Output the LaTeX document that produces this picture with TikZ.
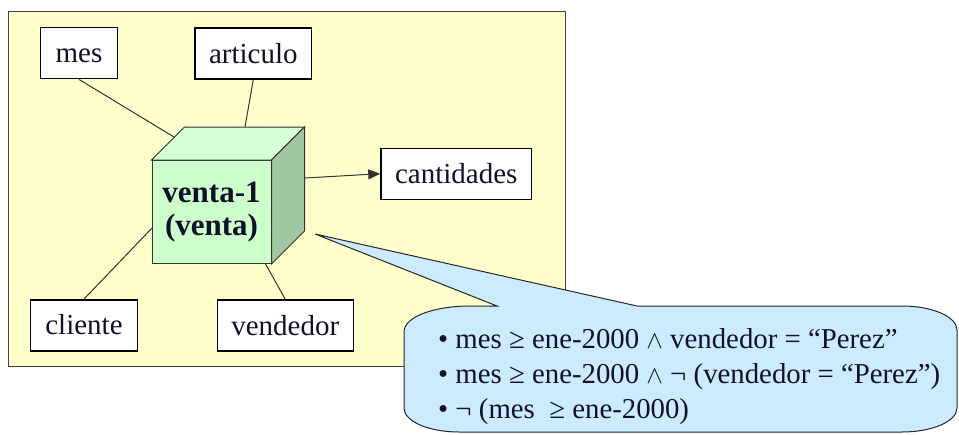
\documentclass[tikz,border=0pt]{standalone}
\usepackage{fontspec}
\setmainfont{Liberation Serif}
\usetikzlibrary{arrows.meta}
\definecolor{paper}{HTML}{FFFFCC}
\definecolor{cubefront}{HTML}{CCFFCC}
\definecolor{cubetop}{HTML}{D6FFD6}
\definecolor{cubeside}{HTML}{A0C8A0}
\definecolor{calloutfill}{HTML}{CCEBFF}
\definecolor{inkline}{HTML}{333333}
\definecolor{inktext}{HTML}{101028}

\begin{document}
\begin{tikzpicture}[x=1pt,y=-1pt,
  attr/.style={draw=black, line width=1.4pt, fill=white, inner sep=0pt,
    minimum height=51pt, text=inktext,
    font=\fontsize{29}{32}\selectfont, text height=22pt, text depth=3pt},
  link/.style={draw=inkline, line width=1pt},
  cubeface/.style={draw=black!80, line width=1pt},
  condtext/.style={anchor=base west, inner sep=0pt, text=inktext,
    font=\fontsize{28.8}{35}\selectfont}]

\useasboundingbox (0,0) rectangle (959,434);

% background frame
\node[draw=black!75, line width=1.2pt, fill=paper, inner sep=0pt,
  minimum width=557.4pt, minimum height=354.8pt] (frame) at (287,189.1) {};

% attachment points on the cube
\coordinate (cubeTL) at (174,137);
\coordinate (cubeTB) at (245,127);
\coordinate (cubeL)  at (152,228);
\coordinate (cubeB)  at (265,263);
\coordinate (cubeR)  at (305,178);

% dimension boxes
\node[attr, minimum width=76.6pt]  (mes)        at (79,53.2)    {mes};
\node[attr, minimum width=116.7pt] (articulo)   at (253.3,53.5) {articulo};
\node[attr, minimum width=150.7pt] (cantidades) at (456.3,173.7) {cantidades};
\node[attr, minimum width=106.6pt] (cliente)    at (84,325.3)   {cliente};
\node[attr, minimum width=136pt]   (vendedor)   at (285.3,325.5) {vendedor};

% connectors
\draw[link] (mes.south) -- (cubeTL);
\draw[link] (articulo.south) -- (cubeTB);
\draw[link] (cliente.north) -- (cubeL);
\draw[link] (vendedor.north) -- (cubeB);
\draw[link, -{Triangle[length=12pt,width=10pt]}] (cubeR) -- (cantidades.west);

% the cube
\node[cubeface, fill=cubefront, inner sep=0pt, minimum width=119pt,
  minimum height=103pt, align=center, text=inktext,
  font=\fontsize{31}{32.5}\selectfont\bfseries] (cube) at (211.5,212)
  {venta-1\\(venta)};
\draw[cubeface, fill=cubetop] (cube.north west) -- ++(33,-33)
  -- ([shift={(33,-33)}]cube.north east) -- (cube.north east) -- cycle;
\draw[cubeface, fill=cubeside] (cube.north east) -- ++(33,-33)
  -- ([shift={(33,-33)}]cube.south east) -- (cube.south east) -- cycle;

% speech bubble with the conditions
\coordinate (tip) at (315,234);
\draw[draw=black!85, line width=1pt, fill=calloutfill]
  (404,332) .. controls (404,316) and (436,306) .. (470,306)
  -- (497,306) -- (tip) -- (637,306) -- (902,306)
  .. controls (932.4,306) and (957,316.7) .. (957,330)
  -- (957,408)
  .. controls (957,421.3) and (932.4,432) .. (902,432)
  -- (459,432)
  .. controls (428.6,432) and (404,421.3) .. (404,408)
  -- cycle;

\node[condtext] (cond1) at (438,348.3) {• mes ≥ ene-2000 $\wedge$ vendedor = “Perez”};
\node[condtext] (cond2) at (438,383.3) {• mes ≥ ene-2000 $\wedge$ ¬ (vendedor = “Perez”)};
\node[condtext] (cond3) at (438,418.3) {• ¬ (mes \ ≥ ene-2000)};
\end{tikzpicture}
\end{document}
